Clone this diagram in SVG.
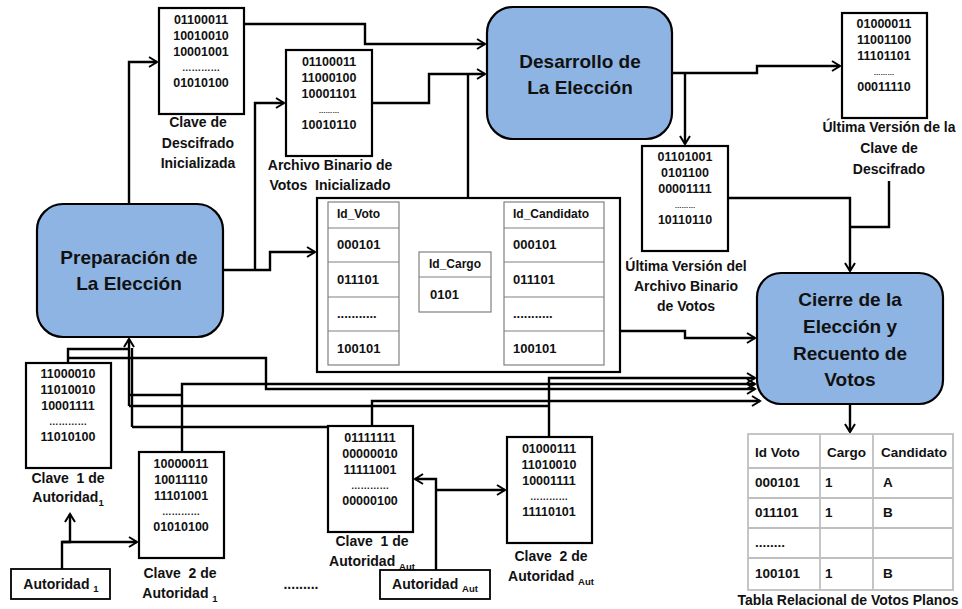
<svg xmlns="http://www.w3.org/2000/svg" width="962" height="609" viewBox="0 0 962 609">
<defs>
<marker id="ar" markerUnits="userSpaceOnUse" markerWidth="12" markerHeight="12" viewBox="0 0 12 12" refX="10" refY="6" orient="auto">
<path d="M2,1 L10,6 L2,11" fill="none" stroke="#000" stroke-width="2"/>
</marker>
<style>
text{font-family:"Liberation Sans",Arial,sans-serif;font-weight:bold;fill:#111}
.proc{fill:#8eb4e3;stroke:#000;stroke-width:2.2}
.bt{font-size:19px;text-anchor:middle}
.box{fill:#fff;stroke:#000;stroke-width:2.2}
.bin{font-size:12.5px;text-anchor:middle}
.dl{font-size:9.5px;text-anchor:middle}
.ds{font-size:6.8px;text-anchor:middle}
.lb{font-size:14px;text-anchor:middle}
.sub{font-size:9.5px}
.cell{fill:#fff;stroke:#808080;stroke-width:1.2}
.ct{font-size:13px}
.ch{font-size:12px}
.rt{fill:#fff;stroke:#bfbfbf;stroke-width:1.8}
.rx{font-size:13.5px;font-family:"Liberation Sans",Arial,sans-serif}
.cn path{fill:none;stroke:#000;stroke-width:2.4}
</style>
</defs>
<rect width="962" height="609" fill="#fff"/>

<g id="connectors" class="cn">
<path d="M129,204 V62 H157" marker-end="url(#ar)"/>
<path d="M244,24 H365 V44 H485" marker-end="url(#ar)"/>
<path d="M372,103 H429 V74 H485" marker-end="url(#ar)"/>
<path d="M468,198 V74"/>
<path d="M223,270 H270 V252 H315" marker-end="url(#ar)"/>
<path d="M255,270 V103 H284" marker-end="url(#ar)"/>
<path d="M672,73 H757 V66 H840" marker-end="url(#ar)"/>
<path d="M685,73 V144" marker-end="url(#ar)"/>
<path d="M728,198 H850 V271" marker-end="url(#ar)"/>
<path d="M889,181 V227 H850"/>
<path d="M620,331 H685 V338 H755" marker-end="url(#ar)"/>
<path d="M68,363 V349 H129"/>
<path d="M129,406 V339" marker-end="url(#ar)"/>
<path d="M132,427 V348"/>
<path d="M68,358 H266 V389 H755" marker-end="url(#ar)"/>
<path d="M182,452 V384 H755" marker-end="url(#ar)"/>
<path d="M182,395 H129"/>
<path d="M372,426 V401 H760" marker-end="url(#ar)"/>
<path d="M328,427 H132"/>
<path d="M549,437 V378 H755" marker-end="url(#ar)"/>
<path d="M549,406 H129"/>
<path d="M62,569 V542 H137" marker-end="url(#ar)"/>
<path d="M62,542 H70 V514" marker-end="url(#ar)"/>
<path d="M436,570 V479 H415" marker-end="url(#ar)"/>
<path d="M436,490 H505" marker-end="url(#ar)"/>
<path d="M850,404 V432" marker-end="url(#ar)"/>
</g>

<g id="preparacion">
<rect class="proc" x="37" y="204" width="186" height="133" rx="26"/>
<text class="bt" x="129" y="264">Preparación de</text>
<text class="bt" x="129" y="290">La Elección</text>
</g>

<g id="desarrollo">
<rect class="proc" x="487" y="7" width="185" height="132" rx="26"/>
<text class="bt" x="580" y="68">Desarrollo de</text>
<text class="bt" x="580" y="94">La Elección</text>
</g>

<g id="cierre">
<rect class="proc" x="757" y="273" width="186" height="131" rx="24"/>
<text class="bt" x="850" y="306">Cierre de la</text>
<text class="bt" x="850" y="333">Elección y</text>
<text class="bt" x="850" y="360">Recuento de</text>
<text class="bt" x="850" y="386">Votos</text>
</g>

<g id="clave-descifrado-inicializada">
<rect class="box" x="159" y="8" width="85" height="106"/>
<text class="bin" x="201" y="24">01100011</text>
<text class="bin" x="201" y="40">10010010</text>
<text class="bin" x="201" y="56">10001001</text>
<text class="dl" x="201" y="71">…………</text>
<text class="bin" x="201" y="87">01010100</text>
<text class="lb" x="198" y="127">Clave de</text>
<text class="lb" x="198" y="148">Descifrado</text>
<text class="lb" x="198" y="168">Inicializada</text>
</g>

<g id="archivo-binario-inicializado">
<rect class="box" x="286" y="50" width="86" height="106"/>
<text class="bin" x="329" y="66">01100011</text>
<text class="bin" x="329" y="82">11000100</text>
<text class="bin" x="329" y="98">10001101</text>
<text class="ds" x="329" y="113">………</text>
<text class="bin" x="329" y="129">10010110</text>
<text class="lb" x="330" y="170">Archivo Binario de</text>
<text class="lb" x="330" y="190" xml:space="preserve">Votos  Inicializado</text>
</g>

<g id="ultima-clave">
<rect class="box" x="842" y="13" width="85" height="105"/>
<text class="bin" x="884" y="28">01000011</text>
<text class="bin" x="884" y="44">11001100</text>
<text class="bin" x="884" y="60">11101101</text>
<text class="ds" x="884" y="75">………</text>
<text class="bin" x="884" y="91">00011110</text>
<text class="lb" x="889" y="132">Última Versión de la</text>
<text class="lb" x="889" y="153">Clave de</text>
<text class="lb" x="889" y="174">Descifrado</text>
</g>

<g id="ultimo-archivo">
<rect class="box" x="642" y="146" width="86" height="105"/>
<text class="bin" x="685" y="161">01101001</text>
<text class="bin" x="685" y="177">0101100</text>
<text class="bin" x="685" y="193">00001111</text>
<text class="ds" x="685" y="208">………</text>
<text class="bin" x="685" y="224">10110110</text>
<text class="lb" x="686" y="271">Última Versión del</text>
<text class="lb" x="686" y="291">Archivo Binario</text>
<text class="lb" x="686" y="311">de Votos</text>
</g>

<g id="tabla-votos">
<rect x="317" y="198" width="303" height="174" fill="#fff" stroke="#000" stroke-width="2.2"/>
<rect class="cell" x="328" y="202" width="71" height="163"/>
<path d="M328,228 H399 M328,262 H399 M328,297 H399 M328,331 H399" stroke="#808080" stroke-width="1.2"/>
<text class="ch" x="337" y="218">Id_Voto</text>
<text class="ct" x="337" y="249">000101</text>
<text class="ct" x="337" y="284">011101</text>
<text class="ct" x="337" y="318">...........</text>
<text class="ct" x="337" y="353">100101</text>
<rect class="cell" x="504" y="202" width="100" height="163"/>
<path d="M504,228 H604 M504,262 H604 M504,297 H604 M504,331 H604" stroke="#808080" stroke-width="1.2"/>
<text class="ch" x="513" y="218">Id_Candidato</text>
<text class="ct" x="513" y="249">000101</text>
<text class="ct" x="513" y="284">011101</text>
<text class="ct" x="513" y="318">...........</text>
<text class="ct" x="513" y="353">100101</text>
<rect class="cell" x="419" y="252" width="72" height="60"/>
<path d="M419,277 H491" stroke="#808080" stroke-width="1.2"/>
<text class="ch" x="429" y="268">Id_Cargo</text>
<text class="ct" x="430" y="299">0101</text>
</g>

<g id="clave1-autoridad1">
<rect class="box" x="26" y="363" width="85" height="105"/>
<text class="bin" x="68" y="378">11000010</text>
<text class="bin" x="68" y="394">11010010</text>
<text class="bin" x="68" y="410">10001111</text>
<text class="dl" x="68" y="425">…………</text>
<text class="bin" x="68" y="441">11010100</text>
<text class="lb" x="68" y="483" xml:space="preserve">Clave  1 de</text>
<text class="lb" x="68" y="502">Autoridad<tspan class="sub" dy="4">1</tspan></text>
</g>

<g id="clave2-autoridad1">
<rect class="box" x="139" y="452" width="85" height="106"/>
<text class="bin" x="181" y="468">10000011</text>
<text class="bin" x="181" y="484">10011110</text>
<text class="bin" x="181" y="500">11101001</text>
<text class="dl" x="181" y="515">…………</text>
<text class="bin" x="181" y="531">01010100</text>
<text class="lb" x="180" y="578" xml:space="preserve">Clave  2 de</text>
<text class="lb" x="180" y="598">Autoridad <tspan class="sub" dy="4">1</tspan></text>
</g>

<g id="clave1-autoridadaut">
<rect class="box" x="328" y="426" width="85" height="106"/>
<text class="bin" x="370" y="442">01111111</text>
<text class="bin" x="370" y="458">00000010</text>
<text class="bin" x="370" y="474">11111001</text>
<text class="dl" x="370" y="489">…………</text>
<text class="bin" x="370" y="505">00000100</text>
<text class="lb" x="372" y="546" xml:space="preserve">Clave  1 de</text>
<text class="lb" x="372" y="566">Autoridad <tspan class="sub" dy="4">Aut</tspan></text>
</g>

<g id="clave2-autoridadaut">
<rect class="box" x="507" y="437" width="85" height="106"/>
<text class="bin" x="549" y="453">01000111</text>
<text class="bin" x="549" y="469">11010010</text>
<text class="bin" x="549" y="485">10001111</text>
<text class="dl" x="549" y="500">…………</text>
<text class="bin" x="549" y="516">11110101</text>
<text class="lb" x="551" y="561" xml:space="preserve">Clave  2 de</text>
<text class="lb" x="551" y="581">Autoridad <tspan class="sub" dy="4">Aut</tspan></text>
</g>

<g id="autoridad1">
<rect x="11" y="569" width="99" height="30" fill="#fff" stroke="#000" stroke-width="1.8"/>
<text class="lb" x="61" y="589">Autoridad <tspan class="sub" dy="3">1</tspan></text>
</g>

<g id="ellipsis">
<text class="lb" x="301" y="589">.........</text>
</g>

<g id="autoridadaut">
<rect x="380" y="570" width="110" height="29" fill="#fff" stroke="#000" stroke-width="1.8"/>
<text class="lb" x="435" y="589">Autoridad <tspan class="sub" dy="3">Aut</tspan></text>
</g>

<g id="tabla-relacional">
<rect class="rt" x="748" y="434" width="205" height="156"/>
<path d="M748,468 H953 M748,498 H953 M748,528 H953 M748,558 H953 M820,434 V590 M873,434 V590" stroke="#bfbfbf" stroke-width="1.8" fill="none"/>
<text class="rx" x="755" y="457">Id Voto</text>
<text class="rx" x="827" y="457">Cargo</text>
<text class="rx" x="881" y="457">Candidato</text>
<text class="rx" x="755" y="487">000101</text>
<text class="rx" x="825" y="487">1</text>
<text class="rx" x="883" y="487">A</text>
<text class="rx" x="755" y="517">011101</text>
<text class="rx" x="825" y="517">1</text>
<text class="rx" x="883" y="517">B</text>
<text class="rx" x="755" y="547">........</text>
<text class="rx" x="755" y="578">100101</text>
<text class="rx" x="825" y="578">1</text>
<text class="rx" x="883" y="578">B</text>
<text class="lb" x="848" y="605">Tabla Relacional de Votos Planos</text>
</g>
</svg>
